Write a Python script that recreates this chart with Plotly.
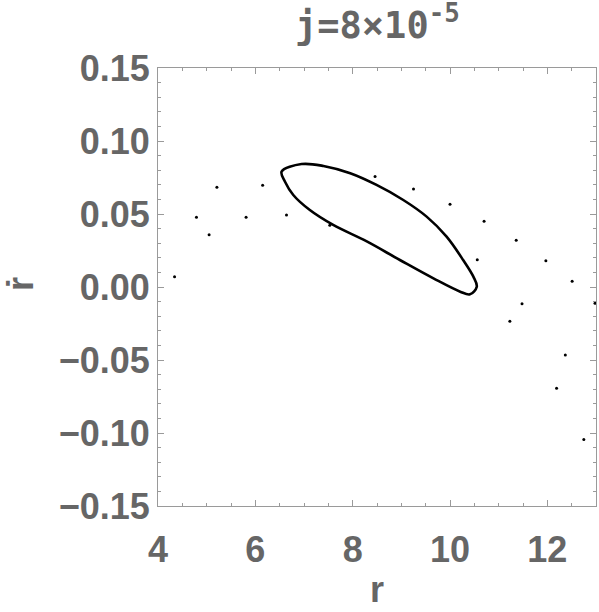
import plotly.graph_objects as go


# ==========================================================
# DATA
# ==========================================================

# closed orbit (r, r-dot)
loop_r = [6.54, 6.95, 7.40, 7.95, 8.49, 9.04, 9.52, 9.93, 10.27, 10.48,
          10.55, 10.41, 10.21, 9.66, 8.97, 8.29, 7.60, 7.12, 6.78, 6.61, 6.54]

loop_v = [0.0790, 0.0842, 0.0829, 0.0779, 0.0699, 0.0596, 0.0482, 0.0345,
          0.0185, 0.0071, 0.0002, -0.0050, -0.0032, 0.0059, 0.0185, 0.0312,
          0.0425, 0.0527, 0.0630, 0.0721, 0.0790]

# scattered section points
dot_r = [4.34, 4.79, 5.05, 5.21, 5.81, 6.15, 6.64, 7.53, 8.46, 9.25, 10.00,
         10.70, 10.56, 11.36, 11.97, 12.51, 11.48, 12.98, 11.23, 12.37,
         12.19, 12.75]

dot_v = [0.0071, 0.0477, 0.0358, 0.0683, 0.0477, 0.0697, 0.0493, 0.0423,
         0.0756, 0.0671, 0.0567, 0.0450, 0.0187, 0.0320, 0.0180, 0.0039,
         -0.0114, -0.0111, -0.0235, -0.0466, -0.0694, -0.1044]

x_ticks = [4, 6, 8, 10, 12]
y_ticks = [-0.15, -0.10, -0.05, 0.00, 0.05, 0.10, 0.15]

title_text = "j=8×10<sup>-5</sup>"


# ==========================================================
# THEME
# ==========================================================

LABEL = "#666666"

FRAME = "#9a9a9a"

TICK_FONT = dict(family="Liberation Sans, Arial", size=36, color=LABEL, weight="bold")


# ==========================================================
# FIGURE
# ==========================================================

fig = go.Figure()

fig.add_trace(

    go.Scatter(

        x=loop_r,

        y=loop_v,

        mode="lines",

        line=dict(color="black", width=2.6, shape="spline"),

        hoverinfo="skip"

    )

)

fig.add_trace(

    go.Scatter(

        x=dot_r,

        y=dot_v,

        mode="markers",

        marker=dict(color="black", size=3),

        hoverinfo="skip"

    )

)

fig.update_layout(

    width=599,

    height=612,

    showlegend=False,

    paper_bgcolor="white",

    plot_bgcolor="white",

    margin=dict(l=158, r=3, t=68, b=106),

    annotations=[

        dict(
            text=title_text,
            xref="paper", yref="paper",
            x=0.5, y=1, yshift=46,
            xanchor="center", yanchor="middle",
            showarrow=False,
            font=dict(family="DejaVu Sans Mono", size=37, color=LABEL, weight="bold")
        ),

        dict(
            text="r",
            xref="paper", yref="paper",
            x=0.5, y=0, yshift=-83,
            xanchor="center", yanchor="middle",
            showarrow=False,
            font=TICK_FONT
        ),

        dict(
            text="ṙ",
            xref="paper", yref="paper",
            x=0, y=0.5, xshift=-138, yshift=3,
            xanchor="center", yanchor="middle",
            textangle=-90,
            showarrow=False,
            font=TICK_FONT
        )

    ]

)

fig.update_xaxes(

    range=[4, 13],

    tickvals=x_ticks,

    tickfont=TICK_FONT,

    ticks="inside",

    ticklen=6,

    tickcolor=FRAME,

    ticklabelstandoff=12,

    minor=dict(ticks="inside", ticklen=3, dtick=0.5, tickcolor=FRAME, showgrid=False),

    showline=True,

    linecolor=FRAME,

    linewidth=1,

    mirror="ticks",

    showgrid=False,

    zeroline=False,

    automargin=False

)

fig.update_yaxes(

    range=[-0.15, 0.15],

    tickvals=y_ticks,

    tickformat=".2f",

    tickfont=TICK_FONT,

    ticks="inside",

    ticklen=6,

    tickcolor=FRAME,

    minor=dict(ticks="inside", ticklen=3, dtick=0.01, tickcolor=FRAME, showgrid=False),

    showline=True,

    linecolor=FRAME,

    linewidth=1,

    mirror="ticks",

    showgrid=False,

    zeroline=False,

    automargin=False

)

# page body has an 8px default margin; drop it so the chart sits at 0,0
fig.write_html(
    "out.html",
    config={"displayModeBar": False},
    post_script="document.body.style.margin='0';"
)
